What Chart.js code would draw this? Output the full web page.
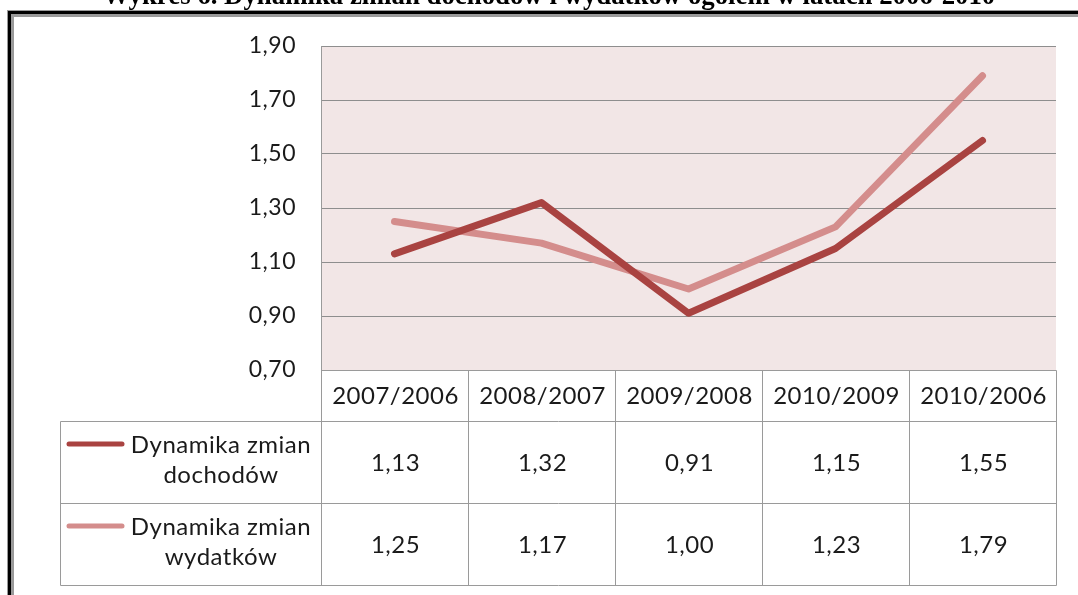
<!DOCTYPE html>
<html>
<head>
<meta charset="utf-8">
<script src="https://cdn.jsdelivr.net/npm/chart.js@4"></script>
<style>
  html, body { margin: 0; padding: 0; background: #fff; }
  #wrap { width: 1078px; height: 595px; position: relative; }
</style>
</head>
<body>
<div id="wrap"><canvas id="myChart" width="1078" height="595"></canvas></div>
<script>
const title = 'Wykres 6. Dynamika zmian dochodów i wydatków ogółem w latach 2006-2010';
const categories = ['2007/2006', '2008/2007', '2009/2008', '2010/2009', '2010/2006'];
const dochody = [1.13, 1.32, 0.91, 1.15, 1.55];
const wydatki = [1.25, 1.17, 1.00, 1.23, 1.79];
const seriesNames = [['Dynamika zmian', 'dochodów'], ['Dynamika zmian', 'wydatków']];
const seriesColors = ['#a94341', '#d48d8c'];
const yMin = 0.7, yMax = 1.9, yStep = 0.2;

const FONT = 'Lato, "Open Sans", sans-serif';
const SPACING = '0.5px';
const fmt = v => v.toFixed(2).replace('.', ',');

// frame, title, pink plot background
const backdrop = {
    id: 'backdrop',
    beforeDraw(chart) {
        const ctx = chart.ctx;
        const a = chart.chartArea;
        ctx.save();
        // outer double frame
        ctx.fillStyle = '#9a9a9a';
        ctx.fillRect(7, 10, 1078, 7);
        ctx.fillRect(7, 10, 7, 600);
        ctx.fillStyle = '#000';
        ctx.fillRect(8, 11, 1078, 3);
        ctx.fillRect(8, 11, 3, 600);
        ctx.fillStyle = '#fff';
        ctx.fillRect(15, 17, 1078, 600);
        // title, cut at the top edge
        ctx.fillStyle = '#000';
        ctx.font = 'bold 22px "Liberation Serif", serif';
        const w = ctx.measureText(title).width;
        const size = 22 * 892 / w;
        ctx.font = 'bold ' + size.toFixed(1) + 'px "Liberation Serif", serif';
        ctx.textAlign = 'center';
        ctx.textBaseline = 'alphabetic';
        ctx.fillText(title, 549, 4);
        // plot background
        ctx.fillStyle = '#f2e6e6';
        ctx.fillRect(a.left, a.top, a.right - a.left, a.bottom - a.top);
        ctx.restore();
        // slightly wider spacing for the labels drawn after this
        ctx.letterSpacing = SPACING;
    }
};

// data table under the plot, positioned from the category scale
const dataTable = {
    id: 'dataTable',
    afterDraw(chart) {
        const ctx = chart.ctx;
        const a = chart.chartArea;
        const xs = chart.scales.x;
        const rows = [dochody, wydatki];
        const top = a.bottom, headH = 51, rowH = 82, leftX = 60;
        const bounds = [a.left];
        for (let i = 0; i < categories.length - 1; i++) {
            bounds.push((xs.getPixelForValue(i) + xs.getPixelForValue(i + 1)) / 2);
        }
        bounds.push(a.right);
        const bottom = top + headH + rowH * rows.length;

        ctx.save();
        ctx.letterSpacing = SPACING;
        ctx.strokeStyle = '#9a9a9a';
        ctx.lineWidth = 1;
        const line = (x1, y1, x2, y2) => {
            ctx.beginPath();
            ctx.moveTo(Math.round(x1) + 0.5, Math.round(y1) + 0.5);
            ctx.lineTo(Math.round(x2) + 0.5, Math.round(y2) + 0.5);
            ctx.stroke();
        };
        line(a.left, top, a.right, top);
        for (let r = 0; r <= rows.length; r++) {
            const y = top + headH + rowH * r;
            line(leftX, y, a.right, y);
        }
        bounds.forEach(x => line(x, top, x, bottom));
        line(leftX, top + headH, leftX, bottom);

        ctx.fillStyle = '#1a1a1a';
        ctx.font = '24px ' + FONT;
        ctx.textAlign = 'center';
        ctx.textBaseline = 'alphabetic';
        categories.forEach((c, i) => {
            ctx.fillText(c, xs.getPixelForValue(i) + 1, top + 34);
        });
        rows.forEach((vals, r) => {
            const y0 = top + headH + rowH * r;
            vals.forEach((v, i) => {
                ctx.fillText(fmt(v), xs.getPixelForValue(i) + 1, y0 + 50);
            });
            // legend key + series name
            ctx.strokeStyle = seriesColors[r];
            ctx.lineWidth = 5;
            ctx.lineCap = 'round';
            ctx.beginPath();
            ctx.moveTo(69, y0 + 23);
            ctx.lineTo(122, y0 + 23);
            ctx.stroke();
            ctx.fillText(seriesNames[r][0], 221, y0 + 32);
            ctx.fillText(seriesNames[r][1], 221, y0 + 62);
        });
        ctx.restore();
    }
};

const ctx = document.getElementById('myChart').getContext('2d');
new Chart(ctx, {
    type: 'line',
    data: {
        labels: categories,
        datasets: [{
            label: seriesNames[0].join(' '),
            data: dochody,
            borderColor: seriesColors[0],
            borderWidth: 7,
            borderCapStyle: 'round',
            borderJoinStyle: 'round',
            pointRadius: 0,
            tension: 0
        }, {
            label: seriesNames[1].join(' '),
            data: wydatki,
            borderColor: seriesColors[1],
            borderWidth: 7,
            borderCapStyle: 'round',
            borderJoinStyle: 'round',
            pointRadius: 0,
            tension: 0
        }]
    },
    options: {
        responsive: false,
        animation: false,
        layout: { padding: { left: 0, right: 22, top: 46, bottom: 225 } },
        plugins: {
            legend: { display: false },
            tooltip: { enabled: false }
        },
        scales: {
            x: {
                display: false,
                offset: true
            },
            y: {
                min: yMin,
                max: yMax,
                afterFit(scale) { scale.width = 321; },
                border: { display: true, color: '#9a9a9a', width: 1 },
                grid: { color: '#8e8e8e', lineWidth: 1, drawTicks: false },
                ticks: {
                    stepSize: yStep,
                    padding: 25,
                    color: '#1a1a1a',
                    font: { family: FONT, size: 23 },
                    callback: v => fmt(v)
                }
            }
        }
    },
    plugins: [backdrop, dataTable]
});
</script>
</body>
</html>
